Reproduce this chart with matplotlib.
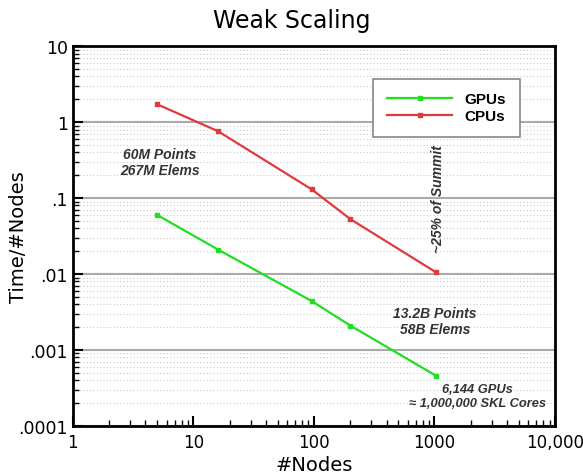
import matplotlib.pyplot as plt
import matplotlib.ticker as mticker
import numpy as np

# data
nodes = [5, 16, 96, 200, 1024]
gpu_time = [0.060, 0.021, 0.0044, 0.0021, 0.00046]
cpu_time = [1.72, 0.76, 0.13, 0.053, 0.0106]

x_ticks = [1, 10, 100, 1000, 10000]
x_labels = ["1", "10", "100", "1000", "10,000"]
y_ticks = [0.0001, 0.001, 0.01, 0.1, 1, 10]
y_labels = [".0001", ".001", ".01", ".1", "1", "10"]

fig = plt.figure(figsize=(5.83, 4.77), dpi=100)
ax = fig.add_axes([0.125, 0.105, 0.827, 0.796])

ax.plot(nodes, gpu_time, color="#22dd22", lw=1.6, marker="s", ms=3.5, label="GPUs")
ax.plot(nodes, cpu_time, color="#e03a3a", lw=1.6, marker="s", ms=3.5, label="CPUs")

ax.set_xscale("log")
ax.set_yscale("log")
ax.set_xlim(1, 10000)
ax.set_ylim(0.0001, 10)
ax.set_xticks(x_ticks)
ax.set_xticklabels(x_labels)
ax.set_yticks(y_ticks)
ax.set_yticklabels(y_labels)
ax.xaxis.set_minor_locator(mticker.LogLocator(base=10, subs=np.arange(2, 10), numticks=20))
ax.yaxis.set_minor_locator(mticker.LogLocator(base=10, subs=np.arange(2, 10), numticks=20))
ax.xaxis.set_minor_formatter(mticker.NullFormatter())
ax.yaxis.set_minor_formatter(mticker.NullFormatter())

ax.tick_params(which="major", direction="in", length=7, width=1.5, labelsize=12.5, top=False, right=False)
ax.tick_params(which="minor", direction="in", length=4, width=1.0, top=False, right=False)
ax.tick_params(axis="x", which="major", pad=5, labelsize=12)
for s in ax.spines.values():
    s.set_linewidth(2)

ax.grid(which="major", axis="y", color="#aaaaaa", lw=1.5)
ax.grid(which="minor", axis="y", color="#cccccc", lw=0.8, ls=(0, (1, 2)))
ax.set_axisbelow(True)

fig.text(0.5, 0.955, "Weak Scaling", ha="center", va="center", fontsize=17)
ax.set_ylabel("Time/#Nodes", fontsize=14)
ax.yaxis.set_label_coords(-0.093, 0.5)
ax.set_xlabel("#Nodes", fontsize=14, labelpad=3)

leg = ax.legend(loc="upper right", bbox_to_anchor=(0.943, 0.935), fancybox=False,
                edgecolor="#888888", framealpha=1, borderpad=0.9, handlelength=4.3,
                labelspacing=0.2, prop={"family": "Liberation Sans", "weight": "bold", "size": 11})
leg.get_frame().set_linewidth(1.2)

note = dict(family="Liberation Sans", weight="bold", style="italic", fontsize=10,
            color="#333333", ha="center", va="center", transform=ax.transAxes)
ax.text(0.18, 0.695, "60M Points\n267M Elems", **note)
ax.text(0.757, 0.6, "~25% of Summit", rotation=90, **note)
ax.text(0.751, 0.276, "13.2B Points\n58B Elems", **note)
note["fontsize"] = 9.3
ax.text(0.84, 0.079, "6,144 GPUs\n\u2248 1,000,000 SKL Cores", **note)

fig.savefig("out.png", dpi=100)
